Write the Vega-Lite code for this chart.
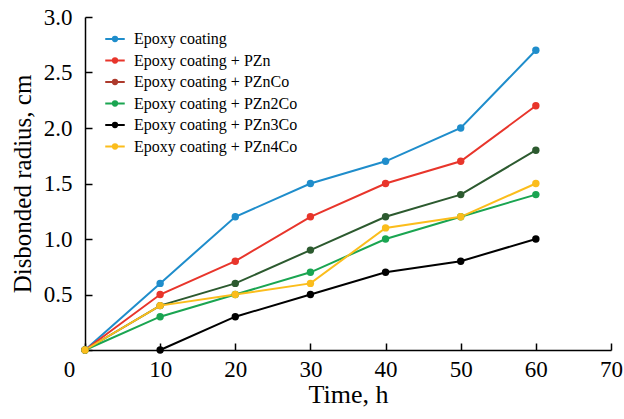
{
  "$schema": "https://vega.github.io/schema/vega-lite/v6.json",
  "autosize": "none",
  "width": 526,
  "height": 333,
  "padding": {"left": 85, "top": 17, "right": 13, "bottom": 69},
  "background": "white",
  "config": {
    "view": {"stroke": null},
    "font": "Liberation Serif"
  },
  "data": {
    "values": [
      {"t": 0, "r": 0, "s": "Epoxy coating"},
      {"t": 10, "r": 0.6, "s": "Epoxy coating"},
      {"t": 20, "r": 1.2, "s": "Epoxy coating"},
      {"t": 30, "r": 1.5, "s": "Epoxy coating"},
      {"t": 40, "r": 1.7, "s": "Epoxy coating"},
      {"t": 50, "r": 2.0, "s": "Epoxy coating"},
      {"t": 60, "r": 2.7, "s": "Epoxy coating"},
      {"t": 0, "r": 0, "s": "Epoxy coating + PZn"},
      {"t": 10, "r": 0.5, "s": "Epoxy coating + PZn"},
      {"t": 20, "r": 0.8, "s": "Epoxy coating + PZn"},
      {"t": 30, "r": 1.2, "s": "Epoxy coating + PZn"},
      {"t": 40, "r": 1.5, "s": "Epoxy coating + PZn"},
      {"t": 50, "r": 1.7, "s": "Epoxy coating + PZn"},
      {"t": 60, "r": 2.2, "s": "Epoxy coating + PZn"},
      {"t": 0, "r": 0, "s": "Epoxy coating + PZnCo"},
      {"t": 10, "r": 0.4, "s": "Epoxy coating + PZnCo"},
      {"t": 20, "r": 0.6, "s": "Epoxy coating + PZnCo"},
      {"t": 30, "r": 0.9, "s": "Epoxy coating + PZnCo"},
      {"t": 40, "r": 1.2, "s": "Epoxy coating + PZnCo"},
      {"t": 50, "r": 1.4, "s": "Epoxy coating + PZnCo"},
      {"t": 60, "r": 1.8, "s": "Epoxy coating + PZnCo"},
      {"t": 0, "r": 0, "s": "Epoxy coating + PZn2Co"},
      {"t": 10, "r": 0.3, "s": "Epoxy coating + PZn2Co"},
      {"t": 20, "r": 0.5, "s": "Epoxy coating + PZn2Co"},
      {"t": 30, "r": 0.7, "s": "Epoxy coating + PZn2Co"},
      {"t": 40, "r": 1.0, "s": "Epoxy coating + PZn2Co"},
      {"t": 50, "r": 1.2, "s": "Epoxy coating + PZn2Co"},
      {"t": 60, "r": 1.4, "s": "Epoxy coating + PZn2Co"},
      {"t": 10, "r": 0, "s": "Epoxy coating + PZn3Co"},
      {"t": 20, "r": 0.3, "s": "Epoxy coating + PZn3Co"},
      {"t": 30, "r": 0.5, "s": "Epoxy coating + PZn3Co"},
      {"t": 40, "r": 0.7, "s": "Epoxy coating + PZn3Co"},
      {"t": 50, "r": 0.8, "s": "Epoxy coating + PZn3Co"},
      {"t": 60, "r": 1.0, "s": "Epoxy coating + PZn3Co"},
      {"t": 0, "r": 0, "s": "Epoxy coating + PZn4Co"},
      {"t": 10, "r": 0.4, "s": "Epoxy coating + PZn4Co"},
      {"t": 20, "r": 0.5, "s": "Epoxy coating + PZn4Co"},
      {"t": 30, "r": 0.6, "s": "Epoxy coating + PZn4Co"},
      {"t": 40, "r": 1.1, "s": "Epoxy coating + PZn4Co"},
      {"t": 50, "r": 1.2, "s": "Epoxy coating + PZn4Co"},
      {"t": 60, "r": 1.5, "s": "Epoxy coating + PZn4Co"}
    ]
  },
  "encoding": {
    "x": {
      "field": "t", "type": "quantitative",
      "scale": {"domain": [0, 70], "nice": false},
      "axis": {
        "title": "Time, h", "values": [0, 10, 20, 30, 40, 50, 60, 70],
        "grid": false, "domainColor": "black", "domainWidth": 1.5,
        "tickColor": "black", "tickWidth": 1.5, "tickSize": -7,
        "labelFontSize": 23, "labelColor": "black", "labelPadding": 15,
        "labelFont": "Liberation Serif", "titleFont": "Liberation Serif",
        "titleFontSize": 26, "titleFontWeight": "normal", "titleColor": "black", "titlePadding": 0,
        "labelFlush": false, "labelOverlap": false,
        "labelOffset": {"expr": "datum.value == 0 ? -16 : 0"}
      }
    },
    "y": {
      "field": "r", "type": "quantitative",
      "scale": {"domain": [0, 3], "nice": false},
      "axis": {
        "title": "Disbonded radius, cm", "values": [0, 0.5, 1, 1.5, 2, 2.5, 3],
        "format": ".1f", "labelExpr": "datum.value == 0 ? '' : datum.label",
        "grid": false, "domainColor": "black", "domainWidth": 1.5,
        "tickColor": "black", "tickWidth": 1.5, "tickSize": -7,
        "labelFontSize": 23, "labelColor": "black", "labelPadding": 20,
        "labelFont": "Liberation Serif", "titleFont": "Liberation Serif",
        "titleFontSize": 25, "titleFontWeight": "normal", "titleColor": "black", "titlePadding": 8,
        "labelFlush": false, "labelOverlap": false
      }
    }
  },
  "layer": [
    {
      "transform": [{"filter": "datum.s == 'Epoxy coating + PZnCo'"}],
      "mark": {"type": "line", "color": "#2c5a2f", "strokeWidth": 2, "point": {"filled": true, "size": 55, "color": "#2c5a2f"}}
    },
    {
      "transform": [{"filter": "datum.s != 'Epoxy coating + PZnCo'"}],
      "mark": {"type": "line", "strokeWidth": 2},
      "encoding": {
        "color": {"field": "s", "type": "nominal", "scale": {"domain": ["Epoxy coating", "Epoxy coating + PZn", "Epoxy coating + PZnCo", "Epoxy coating + PZn2Co", "Epoxy coating + PZn3Co", "Epoxy coating + PZn4Co"], "range": ["#1f8dcb", "#e8352b", "#ad3a2c", "#1aa551", "#000000", "#fbbd1c"]}}
      }
    },
    {
      "transform": [{"filter": "datum.s != 'Epoxy coating + PZnCo'"}],
      "mark": {"type": "point", "filled": true, "size": 55, "opacity": 1},
      "encoding": {
        "color": {
          "field": "s", "type": "nominal",
          "scale": {"domain": ["Epoxy coating", "Epoxy coating + PZn", "Epoxy coating + PZnCo", "Epoxy coating + PZn2Co", "Epoxy coating + PZn3Co", "Epoxy coating + PZn4Co"], "range": ["#1f8dcb", "#e8352b", "#ad3a2c", "#1aa551", "#000000", "#fbbd1c"]},
          "legend": {
            "title": null, "orient": "none", "legendX": 19, "legendY": 11, "padding": 0,
            "symbolType": "M-1,0L1,0M-0.22,0A0.22,0.22 0 1,1 0.22,0A0.22,0.22 0 1,1 -0.22,0Z",
            "symbolSize": 380, "symbolStrokeWidth": 2, "symbolOpacity": 1,
            "labelFont": "Liberation Serif", "labelFontSize": 16, "labelColor": "black",
            "labelOffset": 8, "rowPadding": 2.5, "labelLimit": 400
          }
        }
      }
    }
  ]
}
